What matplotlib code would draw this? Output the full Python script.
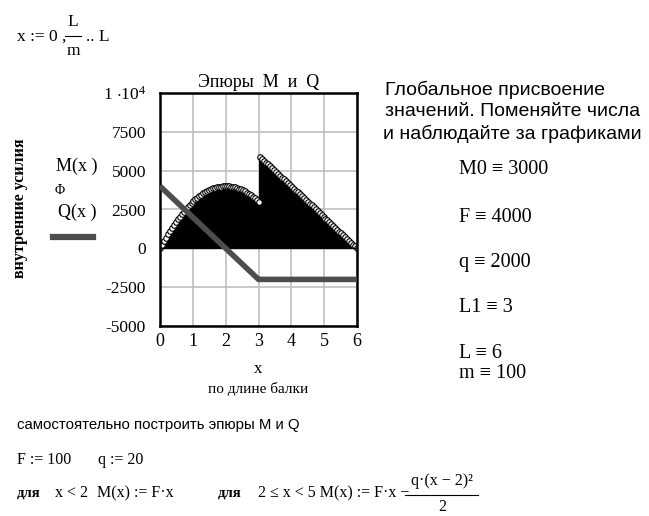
import numpy as np
import matplotlib
matplotlib.use('Agg')
import matplotlib.pyplot as plt

# Mathcad worksheet values
L = 6
m = 100
x = np.arange(m + 1) * L / m

# M(x) (x = 0 .. 6, step 0.06)
M_vals = [0, 236, 466, 688, 902, 1110, 1310, 1504, 1690, 1868,
          2040, 2204, 2362, 2512, 2654, 2790, 2918, 3040, 3154, 3260,
          3360, 3452, 3538, 3616, 3686, 3750, 3806, 3856, 3898, 3932,
          3960, 3980, 3994, 4000, 3998, 3990, 3974, 3952, 3922, 3884,
          3840, 3788, 3730, 3664, 3590, 3510, 3422, 3328, 3226, 3116,
          3000, 5880, 5760, 5640, 5520, 5400, 5280, 5160, 5040, 4920,
          4800, 4680, 4560, 4440, 4320, 4200, 4080, 3960, 3840, 3720,
          3600, 3480, 3360, 3240, 3120, 3000, 2880, 2760, 2640, 2520,
          2400, 2280, 2160, 2040, 1920, 1800, 1680, 1560, 1440, 1320,
          1200, 1080, 960, 840, 720, 600, 480, 360, 240, 120, 0]

# Q(x)
Q_vals = [4000, 3880, 3760, 3640, 3520, 3400, 3280, 3160, 3040, 2920,
          2800, 2680, 2560, 2440, 2320, 2200, 2080, 1960, 1840, 1720,
          1600, 1480, 1360, 1240, 1120, 1000, 880, 760, 640, 520,
          400, 280, 160, 40, -80, -200, -320, -440, -560, -680,
          -800, -920, -1040, -1160, -1280, -1400, -1520, -1640, -1760, -1880,
          -2000, -2000, -2000, -2000, -2000, -2000, -2000, -2000, -2000, -2000,
          -2000, -2000, -2000, -2000, -2000, -2000, -2000, -2000, -2000, -2000,
          -2000, -2000, -2000, -2000, -2000, -2000, -2000, -2000, -2000, -2000,
          -2000, -2000, -2000, -2000, -2000, -2000, -2000, -2000, -2000, -2000,
          -2000, -2000, -2000, -2000, -2000, -2000, -2000, -2000, -2000, -2000, -2000]

yticks = [-5000, -2500, 0, 2500, 5000, 7500, 10000]
ytick_labels = ['-5000', '-2500', '0', '2500', '5000', '7500', r'1 $\cdot$10$^4$']
xticks = [0, 1, 2, 3, 4, 5, 6]

W, H = 649, 516
SERIF = 'Liberation Serif'
SANS = 'Liberation Sans'
plt.rcParams['mathtext.fontset'] = 'custom'
plt.rcParams['mathtext.rm'] = SERIF
plt.rcParams['mathtext.it'] = SERIF

fig = plt.figure(figsize=(W / 100, H / 100), dpi=100)


def px(xp, yp):
    return xp / W, 1 - yp / H


def txt(xp, yp, s, size=10, family=SERIF, **kw):
    fx, fy = px(xp, yp)
    fig.text(fx, fy, s, fontsize=size, family=family, va='center', **kw)


def hline(x0, x1, yp, lw=0.8, color='black'):
    fig.add_artist(plt.Line2D([x0 / W, x1 / W], [1 - yp / H, 1 - yp / H],
                              color=color, lw=lw, transform=fig.transFigure))


ax = fig.add_axes([160 / W, 1 - 326 / H, 197 / W, 233 / H])

ml, sl, bl = ax.stem(x, M_vals, linefmt='k-', markerfmt='o', basefmt='k-')
sl.set_linewidth(0.75)
sl.set_antialiased(False)
bl.set_linewidth(1.0)
ml.set_markersize(4)
ml.set_markerfacecolor('white')
ml.set_markeredgecolor('black')
ml.set_markeredgewidth(0.8)
ax.plot(x, Q_vals, color='#4d4d4d', lw=4, solid_capstyle='butt', zorder=4)

ax.set_xlim(0, 6)
ax.set_ylim(-5000, 10000)
ax.set_xticks(xticks)
ax.set_yticks(yticks)
ax.set_xticklabels([str(t) for t in xticks], family=SERIF, fontsize=13)
ax.set_yticklabels(ytick_labels, family=SERIF, fontsize=12.5)
ax.tick_params(length=0, pad=10)
ax.tick_params(axis='x', pad=5)
ax.grid(True, color='#c0c0c0', lw=1.2)
ax.set_axisbelow(True)
for s in ax.spines.values():
    s.set_linewidth(1.8)
    s.set_color('black')

ax.set_title('Эпюры  М  и  Q', family=SERIF, fontsize=13, pad=4)

# axis labels
txt(258, 369, 'x', 12, ha='center')
txt(258, 389, 'по длине балки', 11, ha='center')
fig.text(*px(20, 208), 'внутренние усилия', rotation=90, family=SERIF,
         fontsize=11.5, fontweight='bold', ha='center', va='center')

# legend on the left
txt(77, 166, 'M(x )', 13, ha='center')
txt(60, 190, r'$\Phi$', 10, ha='center')
txt(77, 212, 'Q(x )', 13, ha='center')
hline(53, 93, 237, lw=4.5, color='#4d4d4d')

# header formula
txt(17, 37, 'x := 0 ,', 12.5)
txt(73, 22, 'L', 12.5, ha='center')
hline(65, 81, 36)
txt(73, 51, 'm', 12.5, ha='center')
txt(86, 37, '.. L', 12.5)

# right side notes
txt(385, 90, 'Глобальное присвоение', 14, SANS)
txt(385, 112, 'значений. Поменяйте числа', 14, SANS)
txt(383, 134, 'и наблюдайте за графиками', 14, SANS)
txt(459, 169, 'M0 ≡ 3000', 14.5)
txt(459, 217, 'F ≡ 4000', 14.5)
txt(459, 263, 'q ≡ 2000', 14.5)
txt(459, 307, 'L1 ≡ 3', 14.5)
txt(459, 354, 'L ≡ 6', 14.5)
txt(459, 373, 'm ≡ 100', 14.5)

# bottom task
txt(17, 425, 'самостоятельно построить эпюры М и Q', 10.8, SANS)
txt(17, 460, 'F := 100', 11.5)
txt(98, 460, 'q := 20', 11.5)
txt(17, 493, 'для', 10.5, fontweight='bold')
txt(55, 493, 'x < 2', 11.5)
txt(97, 493, 'M(x) := F·x', 11.5)
txt(218, 493, 'для', 10.5, fontweight='bold')
txt(258, 493, '2 ≤ x < 5 M(x) := F·x −', 11.5)
txt(442, 481, 'q·(x − 2)²', 11.5, ha='center')
hline(405, 478, 495)
txt(442, 507, '2', 11.5, ha='center')

fig.savefig('out.png', dpi=100)
